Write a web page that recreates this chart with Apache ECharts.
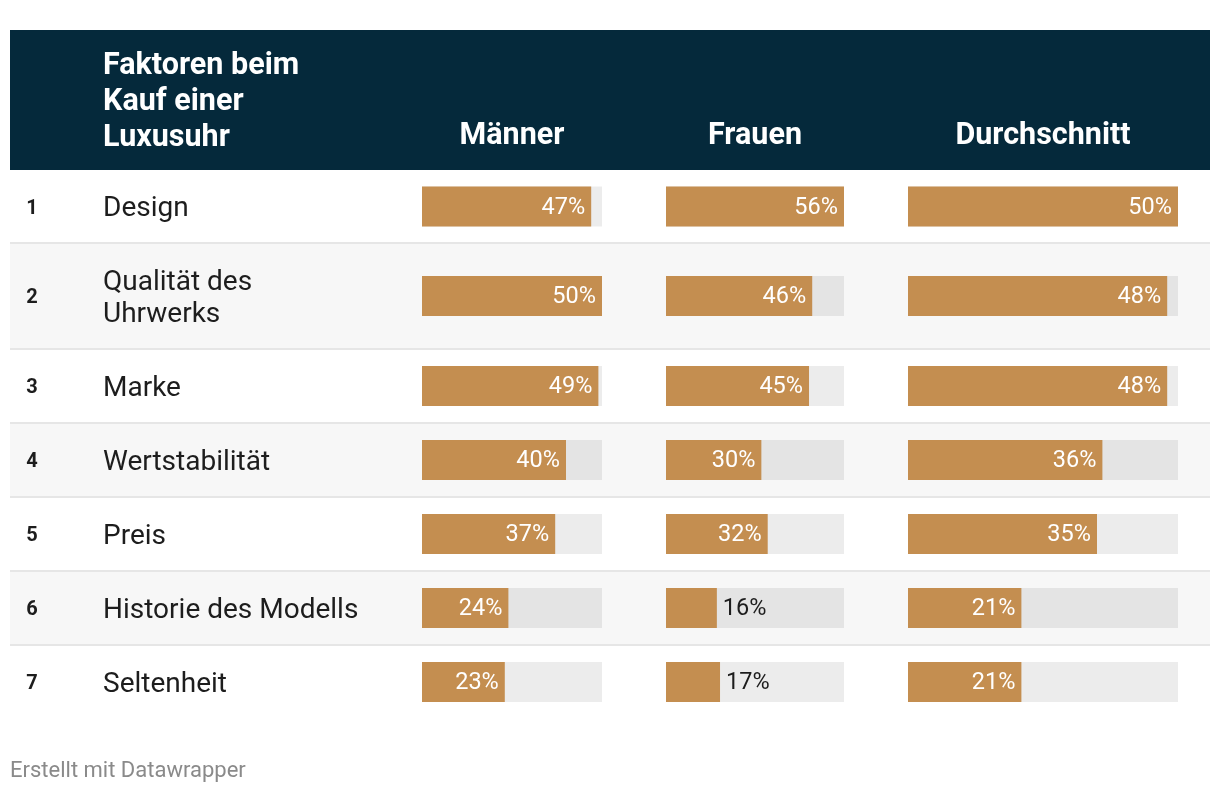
<!DOCTYPE html>
<html><head><meta charset="utf-8">
<script src="https://cdn.jsdelivr.net/npm/echarts@6/dist/echarts.min.js"></script>
<style>html,body{margin:0;padding:0;background:#fff}#c{width:1220px;height:794px}</style>
</head><body><div id="c"></div>
<script>
// ---- data ----
const ranks = ['1','2','3','4','5','6','7'];
const factors = ['Design','Qualität des\nUhrwerks','Marke','Wertstabilität','Preis','Historie des Modells','Seltenheit'];
const headerTitle = 'Faktoren beim\nKauf einer\nLuxusuhr';
const columnTitles = ['Männer','Frauen','Durchschnitt'];
const maenner = [47,50,49,40,37,24,23];
const frauen = [56,46,45,30,32,16,17];
const durchschnitt = [50,48,48,36,35,21,21];
const footerText = 'Erstellt mit Datawrapper';

// ---- layout ----
const FONT = 'Roboto, "Noto Sans", sans-serif';
const BAR = '#c48e50';
const HEAD = '#05293b';
const rowEdges = [170,243,349,423,497,571,645,719];
const cols = [
  {x:422, w:180, values:maenner},
  {x:666, w:178, values:frauen},
  {x:908, w:270, values:durchschnitt}
];
const barH = 40;

const chart = echarts.init(document.getElementById('c'), null, {renderer:'canvas'});
const graphic = [];
graphic.push({type:'rect', shape:{x:10,y:30,width:1200,height:140}, style:{fill:HEAD}, z:0});
for (let r=0;r<7;r++){
  const t=rowEdges[r], b=rowEdges[r+1];
  if (r%2===1) graphic.push({type:'rect', shape:{x:10,y:t,width:1200,height:b-t}, style:{fill:'#f7f7f7'}, z:0});
  if (r>0) graphic.push({type:'rect', shape:{x:10,y:t-1,width:1200,height:2}, style:{fill:'#e6e6e6'}, z:1});
  const cy=(t+b)/2;
  graphic.push({type:'text', x:32, y:cy+2, z:5, style:{text:ranks[r], fill:'#1d1d1d', font:'bold 20px '+FONT, textAlign:'center', textVerticalAlign:'middle'}});
  graphic.push({type:'text', x:103, y:cy+2.5, z:5, style:{text:factors[r], fill:'#1d1d1d', font:'28px '+FONT, lineHeight:32, textAlign:'left', textVerticalAlign:'middle'}});
}
graphic.push({type:'text', x:103, y:102.5, z:5, style:{text:headerTitle, fill:'#fff', font:'bold 30.5px '+FONT, lineHeight:36, textAlign:'left', textVerticalAlign:'middle'}});
cols.forEach((c,i)=>{
  graphic.push({type:'text', x:c.x+c.w/2, y:136.5, z:5, style:{text:columnTitles[i], fill:'#fff', font:'bold 30.5px '+FONT, textAlign:'center', textVerticalAlign:'middle'}});
});
graphic.push({type:'text', x:10, y:771, z:5, style:{text:footerText, fill:'#8a8a8a', font:'22px '+FONT, textAlign:'left', textVerticalAlign:'middle'}});

const grids=[], xAxes=[], yAxes=[], series=[];
cols.forEach((c,ci)=>{
  const mx = Math.max(...c.values);
  c.values.forEach((v,r)=>{
    const idx = grids.length;
    const cy=(rowEdges[r]+rowEdges[r+1])/2;
    grids.push({left:c.x, width:c.w, top:cy-barH/2, height:barH, containLabel:false});
    xAxes.push({type:'value', gridIndex:idx, min:0, max:mx, show:false});
    yAxes.push({type:'category', gridIndex:idx, data:[''], show:false});
    const fits = c.w*v/mx >= 60;
    series.push({
      type:'bar', xAxisIndex:idx, yAxisIndex:idx, data:[v], barWidth:barH,
      showBackground:true, backgroundStyle:{color:'rgba(0,0,0,0.075)'},
      itemStyle:{color:BAR}, z:3,
      label:{show:true, position: fits?'insideRight':'right', distance:6, offset:[0,1.5],
        color: fits?'#ffffff':'#1d1d1d', fontFamily:FONT, fontSize:23.5,
        formatter:p=>p.value+'%'}
    });
  });
});

chart.setOption({
  animation:false,
  graphic:graphic,
  grid:grids, xAxis:xAxes, yAxis:yAxes, series:series
});
</script></body></html>
